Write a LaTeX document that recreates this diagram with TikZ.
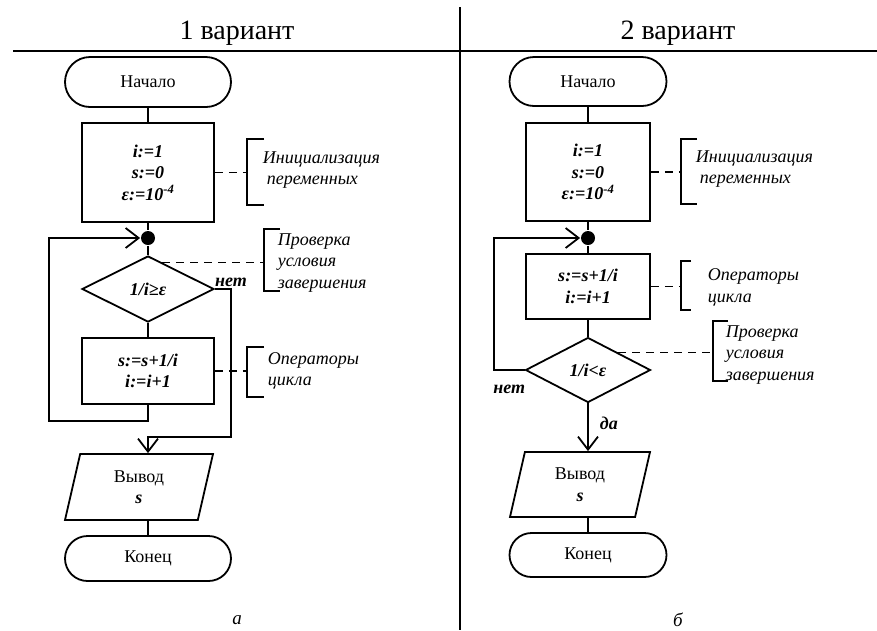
\documentclass[tikz,border=0pt]{standalone}
\usepackage{fontspec}
\setmainfont{Liberation Serif}
\usetikzlibrary{shapes.geometric,shapes.misc,arrows.meta}

\begin{document}
\begin{tikzpicture}[x=1pt,y=-1pt,line width=1.8pt,
  every node/.style={font=\fontsize{18}{21.5}\selectfont,inner sep=0},
  term/.style={draw,rounded rectangle,minimum width=166,minimum height=50},
  proc/.style={draw,rectangle,minimum width=132,minimum height=66,align=center,font=\fontsize{18}{21.5}\selectfont\bfseries\itshape},
  cond/.style={draw,diamond,aspect=2,minimum width=132,minimum height=66,font=\fontsize{18}{21.5}\selectfont\bfseries\itshape},
  io/.style={draw,trapezium,trapezium left angle=65.6,trapezium right angle=114.4,trapezium stretches body,minimum width=148,minimum height=66,align=center},
  dot/.style={circle,fill,minimum size=14},
  flow/.style={-{Straight Barb[length=13pt,width=20pt]}},
  link/.style={dash pattern=on 8pt off 6pt,line width=1.5pt},
  note/.style={anchor=west,align=left,font=\fontsize{18}{21.5}\selectfont\itshape},
  lbl/.style={inner sep=1pt,font=\fontsize{18}{21.5}\selectfont\bfseries\itshape},
  title/.style={font=\fontsize{28}{32}\selectfont}]
\useasboundingbox (0,0) rectangle (877,630);
\draw[line width=2.6pt] (13,51) -- (877,51);
\draw[line width=2.6pt] (460,7) -- (460,630);
\node[title] (t1) at (237,33) {1 вариант};
\node[title] (t2) at (678,33) {2 вариант};

% variant 1
\node[term] (start1) at (148,82) {Начало};
\node[proc,minimum height=99] (init1) at (148,172.5) {i:=1\\s:=0\\ε:=10\textsuperscript{-4}};
\node[dot] (j1) at (148,238) {};
\node[cond] (dec1) at (148,289) {1/i≥ε};
\node[proc] (body1) at (148,371) {s:=s+1/i\\i:=i+1};
\node[io] (out1) at (139,487) {Вывод\\\textbf{\textit{s}}};
\node[term,minimum height=45] (end1) at (148,558.5) {Конец};
\coordinate (l1) at (49,421);
\coordinate (r1) at (231,437);
\draw (start1) -- (init1);
\draw (init1) -- (j1);
\draw (j1) -- (dec1);
\draw (dec1) -- (body1);
\draw[flow] (body1.south) |- (l1) |- (j1.west);
\draw[flow] (dec1.east) -| node[lbl,above,pos=.5] {нет} (r1) -| (j1 |- out1.north);
\draw (end1.north |- out1.south) -- (end1);
\node[font=\fontsize{19}{22}\selectfont\itshape] (c1) at (237,620) {а};

% notes 1
\coordinate (ba1) at (247,139);
\coordinate (bb1) at (247,205);
\draw ([xshift=17pt]ba1) -- (ba1) -- (bb1) -- ([xshift=17pt]bb1);
\draw[link] (init1.east) -- (init1.east -| ba1);
\node[note] (n1) at (262,170) {Инициализация\\\hspace{4pt}переменных};
\coordinate (ba2) at (264,229);
\coordinate (bb2) at (264,291);
\draw ([xshift=16pt]ba2) -- (ba2) -- (bb2) -- ([xshift=16pt]bb2);
\draw[link] (dec1.62) -- (dec1.62 -| ba2);
\node[note] (n2) at (277,263) {Проверка\\условия\\завершения};
\coordinate (ba3) at (247,347);
\coordinate (bb3) at (247,397);
\draw ([xshift=17pt]ba3) -- (ba3) -- (bb3) -- ([xshift=17pt]bb3);
\draw[link] (body1.east) -- (body1.east -| ba3);
\node[note] (n3) at (267,371) {Операторы\\цикла};

% variant 2
\node[term,minimum width=157,minimum height=49] (start2) at (588,81.5) {Начало};
\node[proc,minimum width=124,minimum height=98] (init2) at (588,172) {i:=1\\s:=0\\ε:=10\textsuperscript{-4}};
\node[dot] (j2) at (588,238) {};
\node[proc,minimum width=124,minimum height=65] (body2) at (588,286.5) {s:=s+1/i\\i:=i+1};
\node[cond,minimum width=125,minimum height=65] (dec2) at (588,370) {1/i<ε};
\node[io,minimum width=140,minimum height=65,trapezium left angle=66,trapezium right angle=114] (out2) at (580,484.5) {Вывод\\\textbf{\textit{s}}};
\node[term,minimum width=157,minimum height=44] (end2) at (588,555) {Конец};
\coordinate (l2) at (494,370);
\draw (start2) -- (init2);
\draw (init2) -- (j2);
\draw (j2) -- (body2);
\draw (body2) -- (dec2);
\draw[flow] (dec2.west) -- node[lbl,below=13pt] {нет} (l2) |- (j2.west);
\draw[flow] (dec2.south) -- node[lbl,right=10pt,pos=.42] {да} (dec2.south |- out2.north);
\draw (end2.north |- out2.south) -- (end2);
\node[font=\fontsize{19}{22}\selectfont\itshape] (c2) at (678,620) {б};

% notes 2
\coordinate (ba4) at (681,139);
\coordinate (bb4) at (681,204);
\draw ([xshift=16pt]ba4) -- (ba4) -- (bb4) -- ([xshift=16pt]bb4);
\draw[link] (init2.east) -- (init2.east -| ba4);
\node[note] (n4) at (695,169) {Инициализация\\\hspace{4pt}переменных};
\coordinate (ba5) at (681,261);
\coordinate (bb5) at (681,310);
\draw ([xshift=10pt]ba5) -- (ba5) -- (bb5) -- ([xshift=10pt]bb5);
\draw[link] (body2.east) -- (body2.east -| ba5);
\node[note] (n5) at (707,287.5) {Операторы\\цикла};
\coordinate (ba6) at (713,321);
\coordinate (bb6) at (713,381);
\draw ([xshift=15pt]ba6) -- (ba6) -- (bb6) -- ([xshift=15pt]bb6);
\draw[link] (dec2.30) -- (dec2.30 -| ba6);
\node[note] (n6) at (725,355) {Проверка\\условия\\завершения};
\end{tikzpicture}
\end{document}
